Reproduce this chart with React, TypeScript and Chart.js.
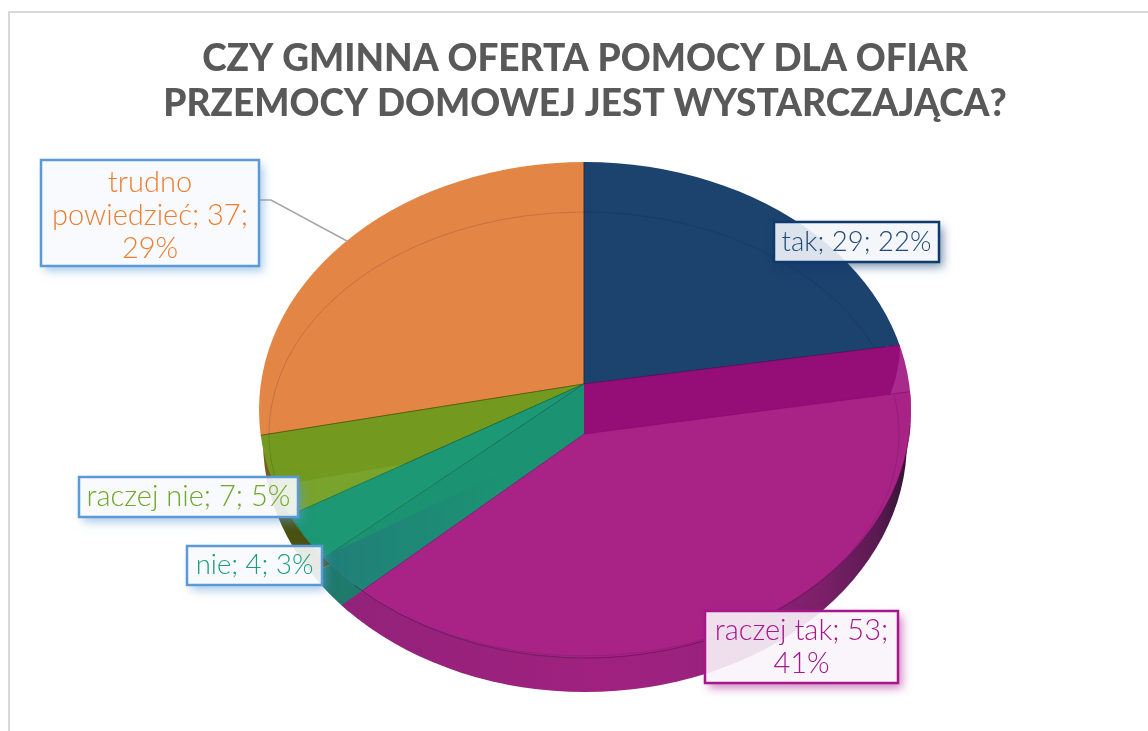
import React, { useEffect, useRef } from "react";
import { Chart, registerables } from "chart.js";

Chart.register(...registerables);

const categories = ["tak", "raczej tak", "nie", "raczej nie", "trudno powiedzieć"];
const values = [29, 53, 4, 7, 37];
const percents = [22, 41, 3, 5, 29];
const titleLines = ["CZY GMINNA OFERTA POMOCY DLA OFIAR", "PRZEMOCY DOMOWEJ JEST WYSTARCZAJĄCA?"];

const TAK = 0, RTAK = 1, NIE = 2, RNIE = 3, TRUDNO = 4;

const sliceColors = ["#1c426e", "#a92387", "#1c9874", "#739a1e", "#e38544"];
const labelText = ["#1f4a78", "#a6188a", "#1a9d80", "#6fa827", "#ed7d31"];
const labelBorder = ["#0f3a6e", "#a6178a", "#5b9bd5", "#5b9bd5", "#5b9bd5"];
const labelFill = [
  "rgba(243,245,249,0.9)",
  "rgba(248,244,250,0.9)",
  "rgba(248,249,253,0.9)",
  "rgba(248,249,253,0.9)",
  "rgba(248,249,253,0.9)",
];
const labelBoxes = [
  { x: 774, y: 222, w: 165, h: 40, wrap: 170, size: 27.5, dy: 0 },
  { x: 705, y: 611, w: 193, h: 72, wrap: 185, size: 29, dy: 0 },
  { x: 187, y: 546, w: 135, h: 39, wrap: 170, size: 27.5, dy: 0 },
  { x: 79, y: 477, w: 219, h: 40, wrap: 240, size: 29, dy: 0 },
  { x: 41, y: 160, w: 218, h: 106, wrap: 205, size: 29, dy: 3 },
];

const TOP = { cx: 584, cy: 384, rx: 470, ry: 338 };
const FACE = { cx: 584, cy: 434, rx: 470, ry: 357 };
const PLATE = { cx: 585, cy: 410, rx: 326, ry: 248 };
const RIM = { cx: 585, cy: 441, rx: 322, ry: 251 };
const INNER = { cx: 584, cy: 434, rx: 315, ry: 222 };
const WALL_END = { cx: 584, cy: 345, rx: 316, ry: 200 };

function wedge(ctx: any, arc: any, g: any, fill: any, stroke?: string) {
  const R = arc.outerRadius;
  const sx = g.rx / R;
  const saved = arc.options;
  arc.options = {
    ...saved,
    backgroundColor: fill,
    borderColor: stroke || "rgba(0,0,0,0)",
    borderWidth: stroke ? 1 / sx : 0,
  };
  ctx.save();
  ctx.translate(g.cx, g.cy);
  ctx.scale(sx, g.ry / R);
  ctx.translate(-arc.x, -arc.y);
  arc.draw(ctx);
  ctx.restore();
  arc.options = saved;
}

function localGradient(ctx: any, arc: any, g: any, x0: number, x1: number, stops: [number, string][]) {
  const R = arc.outerRadius;
  const toLocal = (x: number) => arc.x + ((x - g.cx) * R) / g.rx;
  const grad = ctx.createLinearGradient(toLocal(x0), 0, toLocal(x1), 0);
  stops.forEach(([o, c]) => grad.addColorStop(o, c));
  return grad;
}

function clipEllipse(ctx: any, g: any) {
  ctx.beginPath();
  ctx.ellipse(g.cx, g.cy, g.rx, g.ry, 0, 0, Math.PI * 2);
  ctx.clip();
}

const pie3d = {
  id: "pie3d",
  beforeDatasetsDraw(chart: any) {
    const ctx = chart.ctx;
    const arcs = chart.getDatasetMeta(0).data;

    // outer wall below the plate
    const rimMagenta = localGradient(ctx, arcs[RTAK], FACE, 340, 905, [
      [0, "#92227a"],
      [0.46, "#a0217f"],
      [0.68, "#98227d"],
      [0.85, "#7c2069"],
      [0.95, "#5a1a52"],
      [1, "#341535"],
    ]);
    wedge(ctx, arcs[TRUDNO], RIM, "#7d5a20");
    wedge(ctx, arcs[TAK], RIM, "#1c426e");
    wedge(ctx, arcs[RNIE], RIM, "#4a5212");
    wedge(ctx, arcs[NIE], RIM, "#1f7a6c");
    ctx.save();
    clipEllipse(ctx, RIM);
    wedge(ctx, arcs[RTAK], FACE, rimMagenta);
    ctx.restore();

    // plate
    ctx.save();
    clipEllipse(ctx, PLATE);
    wedge(ctx, arcs[RTAK], TOP, "#a82a8c");
    wedge(ctx, arcs[TRUDNO], TOP, sliceColors[TRUDNO], "rgba(120,70,10,0.7)");
    wedge(ctx, arcs[TAK], TOP, sliceColors[TAK], "rgba(10,30,60,0.6)");
    wedge(ctx, arcs[RNIE], TOP, sliceColors[RNIE], "rgba(60,90,10,0.7)");
    wedge(ctx, arcs[RNIE], FACE, "#78a32c");

    // inner walls of the cut
    ctx.save();
    ctx.beginPath();
    ctx.rect(INNER.cx, 0, chart.width, chart.height);
    ctx.clip();
    clipEllipse(ctx, WALL_END);
    wedge(ctx, arcs[RTAK], TOP, "#950e78", "rgba(120,0,100,0.6)");
    ctx.restore();

    ctx.save();
    ctx.beginPath();
    ctx.rect(0, 0, INNER.cx, chart.height);
    ctx.clip();
    wedge(ctx, arcs[RTAK], TOP, "#1b9272");
    ctx.restore();

    wedge(ctx, arcs[NIE], TOP, sliceColors[NIE], "rgba(15,110,80,0.8)");
    const faceTeal = localGradient(ctx, arcs[NIE], FACE, 330, 500, [
      [0, "#217f79"],
      [1, "#1b9272"],
    ]);
    wedge(ctx, arcs[NIE], FACE, faceTeal);
    wedge(ctx, arcs[RTAK], FACE, sliceColors[RTAK], "rgba(120,10,100,0.6)");
    ctx.restore();

    // faint front-plane outline, interrupted where the cut wall passes
    ctx.save();
    clipEllipse(ctx, PLATE);
    ctx.beginPath();
    ctx.ellipse(INNER.cx, INNER.cy, INNER.rx, INNER.ry, 0, -0.175, Math.PI * 2 - 0.4);
    ctx.strokeStyle = "rgba(30,20,60,0.16)";
    ctx.lineWidth = 1;
    ctx.stroke();
    ctx.restore();

    // plate edge
    ctx.beginPath();
    ctx.ellipse(PLATE.cx, PLATE.cy, PLATE.rx, PLATE.ry, 0, Math.PI * 0.02, Math.PI * 0.75);
    ctx.strokeStyle = "rgba(70,0,60,0.45)";
    ctx.lineWidth = 1;
    ctx.stroke();
    return false;
  },
};

function wrapLines(ctx: any, text: string, width: number) {
  const lines: string[] = [];
  let cur = "";
  text.split(" ").forEach((w) => {
    const next = cur ? cur + " " + w : w;
    if (cur && ctx.measureText(next).width > width) {
      lines.push(cur);
      cur = w;
    } else cur = next;
  });
  if (cur) lines.push(cur);
  return lines;
}

const dataLabels = {
  id: "dataLabels",
  afterDraw(chart: any) {
    const ctx = chart.ctx;
    // leader line
    ctx.save();
    ctx.beginPath();
    ctx.moveTo(259, 200);
    ctx.lineTo(271, 200);
    ctx.lineTo(347, 241);
    ctx.strokeStyle = "#a6a6a6";
    ctx.lineWidth = 1.5;
    ctx.stroke();
    ctx.restore();

    categories.forEach((cat, i) => {
      const b = labelBoxes[i];
      // drop shadow outside the box only, so the box stays see-through
      ctx.save();
      ctx.beginPath();
      ctx.rect(0, 0, chart.width, chart.height);
      ctx.rect(b.x, b.y, b.w, b.h);
      ctx.clip("evenodd");
      ctx.shadowColor = labelBorder[i] + "88";
      ctx.shadowBlur = 9;
      ctx.shadowOffsetX = 4;
      ctx.shadowOffsetY = 5;
      ctx.fillStyle = labelBorder[i];
      ctx.fillRect(b.x, b.y, b.w, b.h);
      ctx.restore();

      ctx.save();
      ctx.fillStyle = labelFill[i];
      ctx.fillRect(b.x, b.y, b.w, b.h);
      ctx.strokeStyle = labelBorder[i];
      ctx.lineWidth = 2.5;
      ctx.strokeRect(b.x, b.y, b.w, b.h);
      ctx.font = `300 ${b.size}px Lato`;
      ctx.fillStyle = labelText[i];
      ctx.textAlign = "center";
      ctx.textBaseline = "middle";
      const lines = wrapLines(ctx, `${cat}; ${values[i]}; ${percents[i]}%`, b.wrap);
      const lh = 33;
      const startY = b.y + b.dy + b.h / 2 - ((lines.length - 1) * lh) / 2;
      lines.forEach((l, k) => ctx.fillText(l, b.x + b.w / 2, startY + k * lh));
      ctx.restore();
    });
  },
};

export default function App() {
  const ref = useRef<HTMLCanvasElement>(null);
  useEffect(() => {
    document.body.style.margin = "0";
    document.body.style.background = "#ffffff";
    const chart = new Chart(ref.current as HTMLCanvasElement, {
      type: "pie",
      data: {
        labels: categories,
        datasets: [{ data: values, backgroundColor: sliceColors, borderWidth: 0 }],
      },
      options: {
        animation: false,
        responsive: false,
        layout: { padding: { left: 22, top: 0, bottom: 20, right: 0 } },
        plugins: {
          legend: { display: false },
          tooltip: { enabled: false },
          title: {
            display: true,
            text: titleLines,
            fullSize: false,
            color: "#595959",
            font: { family: "Lato", size: 37, weight: "900", lineHeight: 1.22 },
            padding: { top: 36, bottom: 0 },
          },
        },
      },
      plugins: [pie3d, dataLabels],
    } as any);
    return () => chart.destroy();
  }, []);
  return (
    <div style={{ position: "relative", width: 1148, height: 731, overflow: "hidden" }}>
      <div
        style={{
          position: "absolute",
          left: 8,
          top: 11,
          right: 0,
          bottom: 0,
          borderLeft: "2px solid #d9d9d9",
          borderTop: "2px solid #d9d9d9",
        }}
      />
      <canvas ref={ref} width={1148} height={731} style={{ position: "absolute", left: 0, top: 0 }} />
    </div>
  );
}
